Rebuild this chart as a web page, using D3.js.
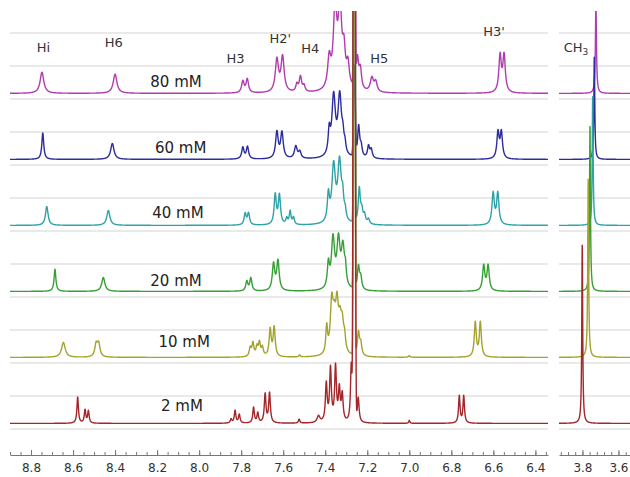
<!DOCTYPE html>
<html><head><meta charset="utf-8">
<script src="https://cdn.jsdelivr.net/npm/d3@7"></script>
<style>body{margin:0;background:#fff}svg{display:block}</style>
</head><body>
<svg id="c" width="630" height="477"></svg>
<script>
// ---------------- DATA ----------------
const concentrations = ["80 mM", "60 mM", "40 mM", "20 mM", "10 mM", "2 mM"];
// vertical offset (intensity units) of each trace's baseline
const baselineOffsets = [101.7, 81.7, 61.7, 41.7, 21.7, 1.7];
// Lorentzian signals: [shift ppm, height, half-width ppm]
const peaks80 = [
  [8.748, 6.4, 0.0105], [8.400, 5.8, 0.0105],
  [7.792, 3.5, 0.007], [7.771, 4.1, 0.007],
  [7.630, 9.8, 0.009], [7.603, 10.6, 0.009],
  [7.535, 2.2, 0.006], [7.518, 4.6, 0.007], [7.501, 1.8, 0.006],
  [7.381, 9, 0.009], [7.353, 24, 0.01], [7.330, 24, 0.01], [7.311, 10, 0.008], [7.292, 7, 0.008],
  [7.247, 9.5, 0.007], [7.233, 6, 0.007],
  [7.178, 4.2, 0.009], [7.160, 3.0, 0.008],
  [6.568, 11.1, 0.007], [6.549, 11.1, 0.007],
  [3.725, 27, 0.0035]
];
const peaks60 = [
  [8.744, 8.0, 0.0055], [8.413, 4.8, 0.0095],
  [7.792, 3.5, 0.0065], [7.770, 3.7, 0.0065],
  [7.630, 8.0, 0.0075], [7.606, 7.8, 0.0075],
  [7.540, 3.7, 0.008], [7.521, 2.0, 0.007],
  [7.381, 7, 0.006], [7.360, 18, 0.01], [7.331, 18, 0.01], [7.316, 4.5, 0.006], [7.306, 2.5, 0.005],
  [7.241, 9.5, 0.006], [7.229, 3, 0.006],
  [7.194, 3.6, 0.006], [7.181, 2.6, 0.006],
  [6.578, 7.9, 0.0065], [6.562, 7.9, 0.0065],
  [3.734, 31, 0.003]
];
const peaks40 = [
  [8.725, 5.7, 0.0075], [8.432, 4.5, 0.009],
  [7.781, 3.4, 0.006], [7.765, 3.5, 0.006],
  [7.638, 9.0, 0.0062], [7.618, 8.8, 0.0062],
  [7.583, 1.8, 0.005], [7.567, 4.0, 0.005], [7.551, 2.1, 0.005],
  [7.385, 8, 0.006], [7.360, 17, 0.01], [7.332, 18, 0.01], [7.317, 6, 0.006], [7.305, 2.5, 0.005],
  [7.238, 10.5, 0.006], [7.226, 3.5, 0.006], [7.213, 2.5, 0.006], [7.194, 1.5, 0.006],
  [6.601, 9.5, 0.0067], [6.579, 9.5, 0.0067],
  [3.743, 39, 0.003]
];
const peaks20 = [
  [8.686, 6.7, 0.0052], [8.456, 4.2, 0.009],
  [7.773, 2.9, 0.006], [7.754, 3.9, 0.006],
  [7.646, 8.0, 0.007], [7.625, 8.9, 0.007],
  [7.385, 7.2, 0.006], [7.363, 15, 0.009], [7.337, 14, 0.009], [7.316, 12, 0.009], [7.304, 4.5, 0.005],
  [7.242, 7, 0.006], [7.231, 3.5, 0.006],
  [6.646, 7.6, 0.0065], [6.625, 7.6, 0.0065],
  [3.758, 50, 0.003]
];
const peaks10 = [
  [8.646, 4.5, 0.0105], [8.490, 3.8, 0.0075], [8.478, 3.8, 0.0075],
  [7.757, 2.6, 0.0055], [7.744, 4.0, 0.0055], [7.725, 2.8, 0.0055], [7.713, 4.0, 0.0055], [7.699, 2.6, 0.0055],
  [7.662, 8.2, 0.0058], [7.643, 8.8, 0.0058], [7.522, 0.6, 0.004],
  [7.393, 8, 0.005], [7.369, 15, 0.008], [7.357, 8, 0.008], [7.344, 13.5, 0.008], [7.330, 8, 0.008], [7.319, 8, 0.008], [7.308, 4, 0.006],
  [7.242, 7, 0.006], [7.231, 3.5, 0.006],
  [7.000, 0.5, 0.004],
  [6.686, 10.4, 0.0057], [6.662, 10.4, 0.0057],
  [3.768, 54, 0.003]
];
const peaks2 = [
  [8.578, 7.9, 0.0043], [8.543, 3.95, 0.0043], [8.527, 3.65, 0.0043],
  [7.848, 1.2, 0.0045], [7.829, 3.8, 0.0045], [7.809, 2.6, 0.0045],
  [7.741, 4.7, 0.0045], [7.721, 3.0, 0.0045],
  [7.686, 8.7, 0.0048], [7.665, 9.0, 0.0048], [7.524, 1.2, 0.004],
  [7.432, 2.0, 0.008], [7.395, 11.5, 0.005], [7.375, 16, 0.005], [7.351, 16.5, 0.005], [7.333, 9.5, 0.005], [7.319, 8, 0.005],
  [7.276, 18, 0.0045], [7.243, 7.5, 0.005],
  [7.000, 0.9, 0.003],
  [6.762, 8.2, 0.0043], [6.741, 8.2, 0.0043],
  [3.801, 54, 0.003]
];
const peakLists = [peaks80, peaks60, peaks40, peaks20, peaks10, peaks2];
// residual CHCl3 solvent line of each trace (Gaussian): [shift ppm, height, sigma ppm]
const solventLines = [[7.261, 600, 0.0025], [7.261, 27, 0.004], [7.262, 600, 0.0025],
  [7.262, 600, 0.0025], [7.262, 600, 0.0025], [7.262, 600, 0.0033]];
const leftTicks = [8.8, 8.6, 8.4, 8.2, 8.0, 7.8, 7.6, 7.4, 7.2, 7.0, 6.8, 6.6, 6.4];
const rightTicks = [3.8, 3.6];
// signal assignments: [label, ppm, intensity level]
const assignLabels = [["Hi", 8.741, 114.2], ["H6", 8.406, 115.8], ["H3", 7.827, 110.8],
  ["H2'", 7.614, 117.1], ["H4", 7.471, 114.0], ["H5", 7.143, 110.8], ["H3'", 6.597, 119.1]];
const methylLabel = ["CH", "3", 3.836, 114.2];
// concentration label anchors: [ppm, intensity level]
const concAnchors = [[8.110, 103.5], [8.088, 83.7], [8.101, 64.0], [8.110, 43.3], [8.071, 24.9], [8.082, 5.5]];

// ---------------- STYLE / LAYOUT ----------------
const colors = ["#b03db0", "#2c2c9c", "#2fa2a8", "#36a036", "#a3a32e", "#a3262b"];
const svg = d3.select("#c");
const xL = d3.scaleLinear().domain([8.9, 6.34]).range([10, 548]);
const xR = d3.scaleLinear().domain([3.93, 3.536]).range([559, 630]);
const y = d3.scaleLinear().domain([0, 120]).range([429, 33]);
const axisY = 455, plotTop = 11;
const font = "DejaVu Sans, Verdana, sans-serif";

const defs = svg.append("defs");
defs.append("clipPath").attr("id", "cl").append("rect")
  .attr("x", xL.range()[0]).attr("y", plotTop).attr("width", xL.range()[1] - xL.range()[0]).attr("height", axisY - plotTop);
defs.append("clipPath").attr("id", "cr").append("rect")
  .attr("x", xR.range()[0]).attr("y", plotTop).attr("width", xR.range()[1] - xR.range()[0]).attr("height", axisY - plotTop);

// grid
[xL, xR].forEach(xs => {
  svg.append("g").selectAll("line").data(y.ticks(12)).join("line")
    .attr("x1", xs.range()[0]).attr("x2", xs.range()[1])
    .attr("y1", d => y(d)).attr("y2", d => y(d))
    .attr("stroke", "#e2e2e2").attr("stroke-width", 1.4);
});

function intensity(p, list, sol) {
  let s = 0;
  for (const [c, h, w] of list) { const d = p - c; s += h * w * w / (w * w + d * d); }
  const ds = (p - sol[0]) / sol[2];
  s += sol[1] * Math.exp(-0.5 * ds * ds);
  return s;
}

const panels = [
  {x: xL, clip: "url(#cl)", lo: 6.34, hi: 8.9},
  {x: xR, clip: "url(#cr)", lo: 3.536, hi: 3.93}
];
panels.forEach(pn => {
  const g = svg.append("g").attr("clip-path", pn.clip);
  const grid = d3.range(pn.lo, pn.hi, 0.0002);
  peakLists.forEach((list, i) => {
    const off = baselineOffsets[i];
    const pts = grid.map(p => [p, off + intensity(p, list, solventLines[i])]);
    const line = d3.line().x(d => pn.x(d[0])).y(d => Math.max(y(d[1]), plotTop - 5));
    g.append("path").attr("d", line(pts)).attr("fill", "none")
      .attr("stroke", colors[i]).attr("stroke-width", 1.4).attr("stroke-linejoin", "round");
  });
});

// axes
function drawAxis(xs, majors, minorStep) {
  const [d0, d1] = xs.domain();
  const lo = Math.min(d0, d1), hi = Math.max(d0, d1);
  const minors = d3.range(Math.ceil(lo / minorStep - 1e-6), Math.floor(hi / minorStep + 1e-6) + 1).map(k => +(k * minorStep).toFixed(3));
  const g1 = svg.append("g").attr("transform", `translate(0,${axisY})`)
    .call(d3.axisBottom(xs).tickValues(minors).tickSize(-3).tickSizeOuter(0).tickFormat(""));
  const g2 = svg.append("g").attr("transform", `translate(0,${axisY})`)
    .call(d3.axisBottom(xs).tickValues(majors).tickSize(-5).tickSizeOuter(0).tickPadding(8).tickFormat(d3.format(".1f")));
  g2.select(".domain").remove();
  [g1, g2].forEach(g => {
    g.selectAll("path,line").attr("stroke", "#777").attr("stroke-width", 1);
    g.selectAll("text").attr("fill", "#333").attr("font-family", font).attr("font-size", 12);
  });
}
drawAxis(xL, leftTicks, 0.05);
drawAxis(xR, rightTicks, 0.04);

// labels
svg.append("g").selectAll("text").data(assignLabels).join("text")
  .attr("x", d => xL(d[1])).attr("y", d => y(d[2])).attr("text-anchor", "middle")
  .attr("font-family", font).attr("font-size", 13).attr("fill", "#333").text(d => d[0]);
const ml = svg.append("text").attr("x", xR(methylLabel[2])).attr("y", y(methylLabel[3]))
  .attr("text-anchor", "middle").attr("font-family", font).attr("font-size", 13).attr("fill", "#333");
ml.append("tspan").text(methylLabel[0]);
ml.append("tspan").attr("font-size", 9).attr("dy", 3).text(methylLabel[1]);

svg.append("g").selectAll("text").data(concentrations).join("text")
  .attr("x", (d, i) => xL(concAnchors[i][0])).attr("y", (d, i) => y(concAnchors[i][1]))
  .attr("text-anchor", "middle").attr("font-family", font).attr("font-size", 15).attr("fill", "#222").text(d => d);
</script>
</body></html>
